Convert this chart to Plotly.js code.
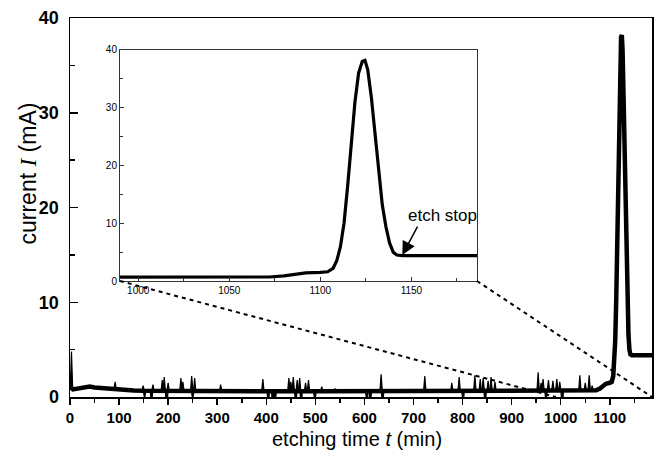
<!DOCTYPE html>
<html><head><meta charset="utf-8">
<script src="https://cdn.plot.ly/plotly-3.0.1.min.js"></script>
<style>html,body{margin:0;padding:0;background:#fff}</style>
</head><body><div id="chart" style="width:659px;height:468px"></div>
<script>
// smooth (averaged) current trace
const timeMin = [0, 2, 6, 12, 20, 30, 40, 50, 60, 75,
  90, 110, 130, 150, 200, 300, 400, 500, 600, 700,
  800, 900, 1000, 1040, 1060, 1072, 1080, 1086, 1092, 1100,
  1104, 1107, 1109, 1111, 1113, 1115, 1117, 1119, 1121, 1123,
  1124.5, 1126, 1128, 1130, 1132, 1134, 1136, 1138, 1140, 1142,
  1145, 1160, 1186];
const currentMA = [0.9, 1.0, 0.8, 0.85, 1.0, 1.1, 1.1, 1.0, 0.95, 0.85,
  0.8, 0.72, 0.68, 0.65, 0.62, 0.6, 0.6, 0.6, 0.6, 0.6,
  0.6, 0.6, 0.62, 0.63, 0.65, 0.7, 0.9, 1.2, 1.4, 1.5,
  1.6, 2.2, 3.5, 5.9, 10.0, 16.5, 23.5, 31.0, 36.0, 38.0,
  38.2, 36.6, 31.8, 25.5, 19.0, 13.2, 9.4, 6.6, 5.0, 4.5,
  4.4, 4.4, 4.4];
// noise spikes on the main record
const spikeTime = [3, 92, 149, 152, 166, 169, 188, 192, 197, 200, 226, 230, 248, 250, 254, 307,
  393, 404, 413, 418, 446, 450, 455, 460, 463, 468, 471, 480, 486, 499, 513, 540,
  605, 612, 634, 637, 723, 778, 793, 801, 825, 836, 842, 846, 852, 858, 866,
  954, 960, 964, 970, 975, 984, 992, 998, 1003, 1039, 1050, 1058, 1064];
const spikeCurrent = [4.8, 1.6, 1.2, -0.2, -1.0, 1.3, 1.8, 2.1, -2.4, 1.5, 2.0, 1.6, 2.2, -0.3, 2.0, 1.3,
  1.9, -1.0, -1.0, -0.8, 2.0, 1.6, 2.1, -0.9, 1.8, 2.0, -1.0, 1.5, 1.8, -0.8, 1.1, 0.9,
  -0.9, -0.9, 2.4, -1.1, 2.2, 1.5, 2.1, -0.8, 2.3, 1.9, 2.0, -0.9, 1.7, 2.1, 1.6,
  2.6, 1.5, 1.9, -0.5, 1.8, 1.7, 1.9, 1.6, -1.6, 2.3, 1.5, 2.3, 1.2];
const mainXRange = [0, 1186];
const mainYRange = [0, 40];
const insetXRange = [990, 1186];
const insetYRange = [0, 40];

function interp(x) {
  for (let i = 1; i < timeMin.length; i++) {
    if (x <= timeMin[i]) {
      const f = (x - timeMin[i-1]) / (timeMin[i] - timeMin[i-1]);
      return currentMA[i-1] + f * (currentMA[i] - currentMA[i-1]);
    }
  }
  return currentMA[currentMA.length-1];
}
const nx = [], ny = [];
const hw = 2.5;
spikeTime.forEach((t, k) => {
  nx.push(Math.max(0, t - hw), t, t + hw, null);
  ny.push(interp(Math.max(0, t - hw)), spikeCurrent[k], interp(t + hw), null);
});

const insetDomX = [0.0859, 0.6993];
const insetDomY = [0.306, 0.9156];

const traces = [
  {x: nx, y: ny, mode: 'lines', fill: 'toself', fillcolor: '#000', line: {color: '#000', width: 1.2}, xaxis: 'x', yaxis: 'y', connectgaps: false, hoverinfo: 'skip'},
  {x: timeMin, y: currentMA, mode: 'lines', line: {color: '#000', width: 4.5}, xaxis: 'x', yaxis: 'y'},
  {x: timeMin, y: currentMA, mode: 'lines', line: {color: '#000', width: 3.2}, xaxis: 'x2', yaxis: 'y2'}
];

const fam = 'Liberation Sans, Arial, sans-serif';
const toPaperX = v => (v - mainXRange[0]) / (mainXRange[1] - mainXRange[0]);
const toPaperY = v => (v - mainYRange[0]) / (mainYRange[1] - mainYRange[0]);

const layout = {
  width: 659, height: 468,
  margin: {l: 70, r: 7, t: 18, b: 71},
  paper_bgcolor: '#fff', plot_bgcolor: '#fff',
  showlegend: false,
  xaxis: {
    domain: [0, 1], range: mainXRange, tick0: 0, dtick: 100,
    ticks: 'outside', ticklen: 6, tickwidth: 1.5, tickcolor: '#000',
    minor: {dtick: 50, ticks: 'outside', ticklen: 4, tickwidth: 1.5, tickcolor: '#000'},
    showline: true, linewidth: 1.5, linecolor: '#000', mirror: true,
    showgrid: false, zeroline: false,
    tickfont: {family: fam, size: 15, color: '#000', weight: 'bold'}
  },
  yaxis: {
    domain: [0, 1], range: mainYRange, tick0: 0, dtick: 10,
    ticks: 'inside', ticklen: 8, tickwidth: 1.5, tickcolor: '#000',
    minor: {dtick: 5, ticks: 'inside', ticklen: 5, tickwidth: 1.5, tickcolor: '#000'},
    showline: true, linewidth: 1.5, linecolor: '#000', mirror: true,
    showgrid: false, zeroline: false, ticklabelstandoff: 6,
    tickfont: {family: fam, size: 18, color: '#000', weight: 'bold'}
  },
  xaxis2: {
    anchor: 'y2', domain: insetDomX, range: insetXRange, tick0: 1000, dtick: 50,
    ticks: 'inside', ticklen: 4, tickwidth: 1, tickcolor: '#333',
    minor: {dtick: 25, ticks: 'inside', ticklen: 3, tickwidth: 1, tickcolor: '#333'},
    showline: true, linewidth: 1, linecolor: '#333', mirror: true,
    showgrid: false, zeroline: false,
    tickfont: {family: fam, size: 10, color: '#000'}
  },
  yaxis2: {
    anchor: 'x2', domain: insetDomY, range: insetYRange, tick0: 0, dtick: 10,
    ticks: 'inside', ticklen: 4, tickwidth: 1, tickcolor: '#333',
    minor: {dtick: 5, ticks: 'inside', ticklen: 3, tickwidth: 1, tickcolor: '#333'},
    showline: true, linewidth: 1, linecolor: '#333', mirror: true,
    showgrid: false, zeroline: false,
    tickfont: {family: fam, size: 10, color: '#000'}
  },
  shapes: [
    {type: 'line', xref: 'paper', yref: 'paper', x0: insetDomX[0], y0: insetDomY[0],
      x1: toPaperX(insetXRange[0]), y1: toPaperY(0), line: {color: '#000', width: 2, dash: '4px,4px'}},
    {type: 'line', xref: 'paper', yref: 'paper', x0: insetDomX[1], y0: insetDomY[0],
      x1: toPaperX(insetXRange[1]), y1: toPaperY(0), line: {color: '#000', width: 2, dash: '4px,4px'}}
  ],
  annotations: [
    {text: 'current <span style="font-family:Liberation Serif"><i>I</i></span> (mA)', xref: 'paper', yref: 'paper',
      x: -0.072, y: 0.59, xanchor: 'center', yanchor: 'middle', textangle: -90, showarrow: false,
      font: {family: fam, size: 23, color: '#000'}},
    {text: 'etching time <i>t</i> (min)', xref: 'paper', yref: 'paper',
      x: 0.493, y: -0.112, xanchor: 'center', yanchor: 'middle', showarrow: false,
      font: {family: fam, size: 20, color: '#000'}},
    {text: 'etch stop', xref: 'x2', yref: 'y2', x: 1167, y: 11.4, xanchor: 'center', yanchor: 'middle',
      showarrow: false, font: {family: fam, size: 17, color: '#000'}},
    {text: '', xref: 'x2', yref: 'y2', x: 1145, y: 4.5, showarrow: true, ax: 16, ay: -30,
      arrowhead: 2, arrowsize: 1.8, arrowwidth: 1.5, arrowcolor: '#000'}
  ]
};
Plotly.newPlot('chart', traces, layout, {staticPlot: true, displayModeBar: false});
</script></body></html>
